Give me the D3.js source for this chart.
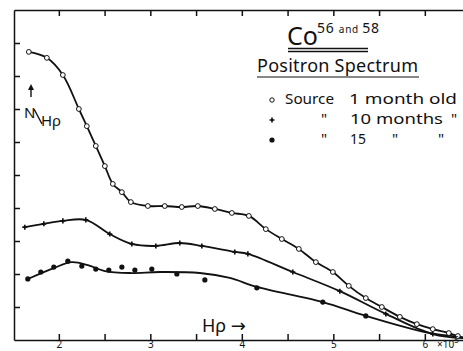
<!DOCTYPE html>
<html>
<head>
<meta charset="utf-8">
<script src="https://cdn.jsdelivr.net/npm/d3@7"></script>
<style>
  body { margin: 0; background: #fff; }
  svg { display: block; }
  text { font-family: "Noto Sans", "DejaVu Sans", sans-serif; fill: #111; }
</style>
</head>
<body>
<div id="chart"></div>
<script>
// H-rho values are in units of 1e5, counts in arbitrary tick units
const xTicks = [2, 2.5, 3, 3.5, 4, 4.5, 5, 5.5, 6];
const xLabels = [2, 3, 4, 5, 6];
const yTicks = [1, 2, 3, 4, 5, 6, 7, 8, 9];

// source 1 month old (open circles)
const month1 = [
  [1.672, 8.73], [1.869, 8.55], [2.044, 8.03], [2.219, 7.00], [2.306, 6.48],
  [2.404, 5.88], [2.503, 5.27], [2.590, 4.73], [2.689, 4.48], [2.787, 4.18],
  [2.973, 4.06], [3.158, 4.06], [3.344, 4.03], [3.519, 4.06], [3.705, 3.97],
  [3.891, 3.85], [4.077, 3.76], [4.262, 3.36], [4.437, 3.06], [4.623, 2.76],
  [4.809, 2.36], [4.995, 2.06], [5.169, 1.64], [5.355, 1.27], [5.530, 1.00],
  [5.727, 0.70], [5.913, 0.48], [6.087, 0.33], [6.262, 0.21], [6.361, 0.12]
];

// 10 months (crosses)
const month10 = [
  [1.628, 3.42], [1.836, 3.52], [2.044, 3.61], [2.295, 3.64], [2.557, 3.21],
  [2.798, 2.91], [3.060, 2.85], [3.322, 2.94], [3.563, 2.85], [3.923, 2.67],
  [4.066, 2.61], [4.557, 2.06], [5.071, 1.48], [5.574, 0.79], [6.087, 0.18]
];

// 15 months (filled dots)
const month15 = [
  [1.661, 1.85], [1.803, 2.06], [1.945, 2.21], [2.098, 2.39], [2.251, 2.24],
  [2.404, 2.15], [2.546, 2.12], [2.689, 2.21], [2.831, 2.12], [3.016, 2.15],
  [3.290, 2.00], [3.596, 1.82], [4.164, 1.58], [4.885, 1.15], [5.355, 0.73]
];

// hand drawn fit through the 15 month points
const fit15 = [
  [1.661, 1.85], [1.945, 2.18], [2.142, 2.36], [2.317, 2.27], [2.503, 2.09],
  [2.776, 2.03], [3.104, 2.06], [3.541, 2.03], [3.869, 1.88], [4.164, 1.61],
  [4.885, 1.15], [5.355, 0.73], [6.0, 0.24], [6.38, 0.09]
];

// where all curves run out at the right edge
const tailEnd = [6.45, 0.05];

const width = 463;
const height = 351;

const svg = d3.select('#chart')
  .append('svg')
  .attr('width', width)
  .attr('height', height);

const x = d3.scaleLinear().domain([1.51, 6.45]).range([14, 466]);
const y = d3.scaleLinear().domain([0, 10]).range([340, 10]);

// frame: bottom, top and left axes with inward ticks
const bottomAxis = svg.append('g')
  .attr('transform', `translate(0,${y(0)})`)
  .call(d3.axisBottom(x).tickValues(xTicks).tickSizeInner(-6).tickSizeOuter(0)
    .tickFormat(d => (xLabels.includes(d) ? d : '')));

const topAxis = svg.append('g')
  .attr('transform', `translate(0,${y(10)})`)
  .call(d3.axisTop(x).tickValues(xTicks).tickSizeInner(-6).tickSizeOuter(0).tickFormat(''));

const leftAxis = svg.append('g')
  .attr('transform', `translate(${x(1.51)},0)`)
  .call(d3.axisLeft(y).tickValues(yTicks).tickSizeInner(-6).tickSizeOuter(0).tickFormat(''));

[bottomAxis, topAxis, leftAxis].forEach(g => {
  g.selectAll('path, line').attr('stroke', '#111').attr('stroke-width', 1.5);
});
// labels sit right under the axis line, flush with the bottom edge
bottomAxis.selectAll('text')
  .style('font-size', '10px')
  .attr('fill', '#111')
  .attr('y', 8)
  .attr('dy', null);

// curves
const line = d3.line()
  .x(d => x(d[0]))
  .y(d => y(d[1]))
  .curve(d3.curveCatmullRom.alpha(0.5));

const curves = [month1.concat([tailEnd]), month10.concat([tailEnd]), fit15.concat([tailEnd])];
svg.append('g')
  .selectAll('path')
  .data(curves)
  .join('path')
  .attr('d', line)
  .attr('fill', 'none')
  .attr('stroke', '#111')
  .attr('stroke-width', 1.8);

// markers
svg.append('g')
  .selectAll('circle')
  .data(month1)
  .join('circle')
  .attr('cx', d => x(d[0]))
  .attr('cy', d => y(d[1]))
  .attr('r', 2.4)
  .attr('fill', '#fff')
  .attr('stroke', '#111')
  .attr('stroke-width', 1);

const plus = d3.symbol().type(d3.symbolCross).size(14);
svg.append('g')
  .selectAll('path')
  .data(month10)
  .join('path')
  .attr('transform', d => `translate(${x(d[0])},${y(d[1])})`)
  .attr('d', plus)
  .attr('fill', '#111');

svg.append('g')
  .selectAll('circle')
  .data(month15)
  .join('circle')
  .attr('cx', d => x(d[0]))
  .attr('cy', d => y(d[1]))
  .attr('r', 2.6)
  .attr('fill', '#111');

// title
svg.append('text').attr('x', 287).attr('y', 45).style('font-size', '25px').text('Co');
const sup = svg.append('text').attr('x', 317).attr('y', 33).attr('textLength', 62).style('font-size', '14px');
sup.append('tspan').text('56 ');
sup.append('tspan').style('font-size', '10px').text('and ');
sup.append('tspan').text('58');
svg.append('line').attr('x1', 288).attr('x2', 368).attr('y1', 48.5).attr('y2', 48.5).attr('stroke', '#111').attr('stroke-width', 1.3);
svg.append('line').attr('x1', 288).attr('x2', 368).attr('y1', 51.5).attr('y2', 51.5).attr('stroke', '#111').attr('stroke-width', 1.3);

svg.append('text').attr('x', 257).attr('y', 72).style('font-size', '18px').attr('textLength', 161).text('Positron Spectrum');
svg.append('line').attr('x1', 257).attr('x2', 419).attr('y1', 77).attr('y2', 77).attr('stroke', '#111').attr('stroke-width', 1.2);

// legend
svg.append('circle').attr('cx', 272).attr('cy', 100).attr('r', 2.2).attr('fill', '#fff').attr('stroke', '#111');
svg.append('path').attr('transform', 'translate(272,120)').attr('d', plus).attr('fill', '#111');
svg.append('circle').attr('cx', 272).attr('cy', 140).attr('r', 2.6).attr('fill', '#111');

const legendFont = '15px';
const legendText = (tx, ty, s, len) => {
  const t = svg.append('text').attr('x', tx).attr('y', ty).style('font-size', legendFont).text(s);
  if (len) t.attr('textLength', len).attr('lengthAdjust', 'spacingAndGlyphs');
};
legendText(285, 104, 'Source', 49);
legendText(349, 104, '1 month old', 108);
legendText(321, 124, '"');
legendText(350, 124, '10 months', 93);
legendText(451, 124, '"');
legendText(321, 144, '"');
legendText(350, 144, '15', 16);
legendText(392, 144, '"');
legendText(438, 144, '"');

// y label: arrow, then N/Hρ
svg.append('line').attr('x1', 31).attr('x2', 31).attr('y1', 97).attr('y2', 88).attr('stroke', '#111').attr('stroke-width', 1.4);
svg.append('path').attr('d', 'M31,84 L28,90 L34,90 Z').attr('fill', '#111');
svg.append('text').attr('x', 24).attr('y', 118).style('font-size', '15px').text('N');
svg.append('line').attr('x1', 34).attr('x2', 42).attr('y1', 109).attr('y2', 124).attr('stroke', '#111').attr('stroke-width', 1.4);
svg.append('text').attr('x', 41).attr('y', 126).style('font-size', '15px').text('Hρ');

svg.append('text').attr('x', 202).attr('y', 332).style('font-size', '18px').text('Hρ →');

const unit = svg.append('text').attr('x', 437).attr('y', 348).style('font-size', '10px');
unit.append('tspan').text('×10');
unit.append('tspan').attr('dy', -5).style('font-size', '8px').text('5');
</script>
</body>
</html>
